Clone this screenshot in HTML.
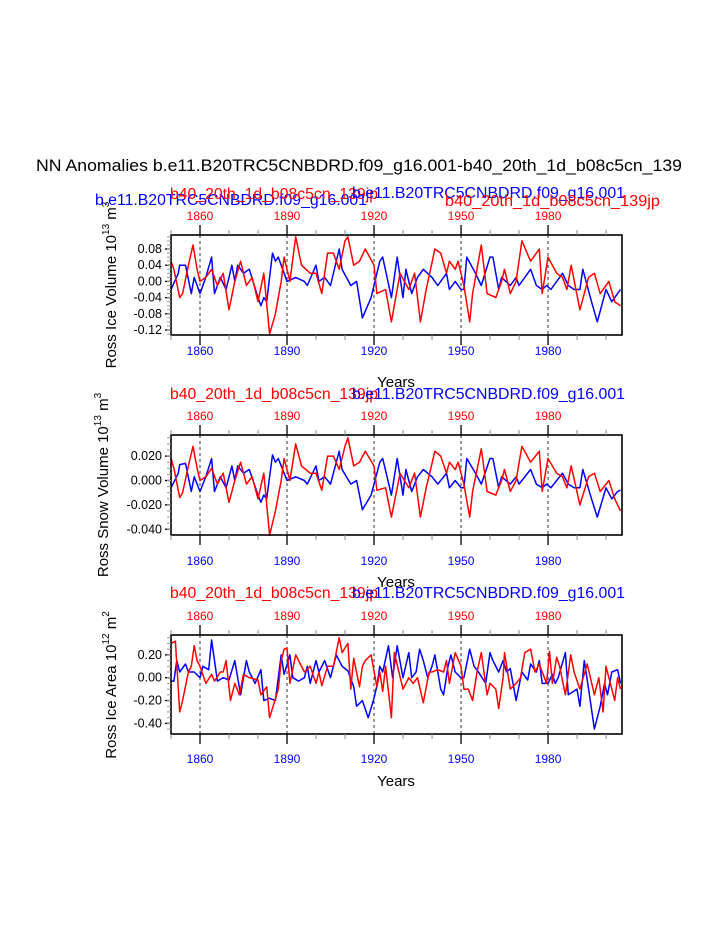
<!DOCTYPE html>
<html><head><meta charset="utf-8"><style>
html,body{margin:0;padding:0;background:#fff;width:723px;height:935px;overflow:hidden}
svg{display:block;font-family:"Liberation Sans",sans-serif}
</style></head><body>
<svg id="chart" width="723" height="935" viewBox="0 0 723 935" xmlns="http://www.w3.org/2000/svg">
<text x="36" y="171" font-size="17" textLength="646" lengthAdjust="spacingAndGlyphs">NN Anomalies b.e11.B20TRC5CNBDRD.f09_g16.001-b40_20th_1d_b08c5cn_139</text>
</svg>
<script>
// ---- data ----
const xTicks = [1860, 1890, 1920, 1950, 1980];
const xMinor = [1850, 1870, 1880, 1900, 1910, 1930, 1940, 1960, 1970, 1990, 2000];
// Panel 1: Ross Ice Volume (values in 10^13 m^3)
const p1Ticks = [0.08, 0.04, 0.00, -0.04, -0.08, -0.12];
const p1TickLabels = ["0.08", "0.04", "0.00", "-0.04", "-0.08", "-0.12"];
const redYears = [1850,1851,1853,1854,1856,1857.6,1859,1860,1862,1864,1866,1868,1870,1872,1874,1876,1878,1880,1882,1884,1886,1888,1889,1891,1893,1895,1898,1900,1902,1904,1906,1908,1910,1911,1913,1915,1917,1920,1921,1924,1926,1929,1932,1934,1936,1938,1941,1943,1945,1946,1948,1949,1951,1953,1954,1957,1959,1962,1964,1965,1967,1969,1971,1974,1977,1978,1980,1983,1985,1986.5,1988,1991,1994,1996,1998,2001,2003,2005];
const p1Red = [5,3,-4,-3,4,9,3,0,1,3,-1,2,-7,0,5,-1,1,-5,2,-13,-8,0,6,0,11,4,2,2,-3,7,7,3,10,11,4,5,8,4,-3,-2,-10,2,-2,2,-10,-2,8,7,2,5,3,5,-1,-10,-3,9,-3,-4,0,3,-3,0,10,5,8,-3,6,2,1,-2,4,-7,1,2,-3,0,-5,-6].map(v=>v/100);
const blueYears = [1850,1852.5,1853,1855,1857,1858,1860,1862,1864,1865,1867,1869,1871,1872,1873,1875,1877,1880,1881,1882,1883,1885,1886,1887,1889,1890,1893,1896,1897,1900,1901,1903,1905,1907,1908,1909,1912,1914,1916,1919,1922,1923,1926,1928,1930,1931,1933,1935,1937,1940,1942,1945,1946,1948,1950,1951,1952,1955,1957,1960,1961,1963,1964,1967,1969,1970,1974,1976,1978,1979.5,1981,1983,1985,1987,1989,1991,1992,1995,1997,2000,2002,2004,2005];
const p1Blue = [-2,2,4,4,-3,1,-3,1,6,-3,1,-2,4,0,4,2,3,-4,-6,-4,-5,7,5,6,2,0,1,0,-1,4,0,1,-1,5,8,3,-1,0,-9,-4,5,6,-4,6,-4,3,-3,1,3,1,-1,2,-2,0,-2,-2,6,2,-1,6,6,-2,1,-1,1,-1,3,-1,-2,-1,-2,0,2,-1,-2,-2,3,-5,-10,-2,-5,-3,-2].map(v=>v/100);
// Panel 2: Ross Snow Volume
const p2Ticks = [0.02, 0.0, -0.02, -0.04];
const p2TickLabels = ["0.020", "0.000", "-0.020", "-0.040"];
const p2Red = [18,10,-14,-10,12,28,10,0,3,10,-3,6,-18,0,15,-3,3,-15,6,-45,-25,0,18,0,30,12,6,6,-8,20,20,9,28,35,12,15,24,12,-8,-6,-30,6,-6,6,-30,-6,24,20,6,15,9,15,-3,-30,-9,26,-9,-12,0,9,-9,0,28,15,24,-9,18,6,3,-6,12,-20,3,6,-9,0,-15,-25].map(v=>v/1000);
const p2Blue = [-6,6,13,14,-9,3,-9,3,18,-9,3,-6,12,0,12,6,9,-12,-18,-12,-15,21,15,18,6,0,3,0,-3,12,0,3,-3,15,24,9,-3,0,-24,-12,15,18,-12,18,-12,9,-9,3,9,3,-3,6,-6,0,-6,-6,18,6,-3,18,18,-6,3,-3,3,-3,9,-3,-6,-3,-6,0,6,-3,-6,-6,9,-15,-30,-6,-15,-9,-8].map(v=>v/1000);
// Panel 3: Ross Ice Area
const p3Ticks = [0.2, 0.0, -0.2, -0.4];
const p3TickLabels = ["0.20", "0.00", "-0.20", "-0.40"];
const p3RedYears = [1850,1851.5,1853,1854,1856,1857,1858,1859,1860,1862,1864,1865,1867,1868,1869,1870.5,1872,1873.6,1875,1877,1880,1881,1883,1884,1887,1888,1889,1890,1891,1893,1896,1898,1900,1901,1902,1904,1906,1908,1909,1911,1912,1913,1915,1916,1917,1919,1921,1922,1923,1924,1926,1927,1930,1932,1933.5,1935,1937,1939,1940,1942,1944,1945,1946,1948,1950,1951,1952.5,1954,1955.5,1957,1959,1960,1962,1963,1964.5,1965,1967,1969,1970.5,1972,1974,1975.5,1977,1978,1979.5,1980.5,1981.5,1983,1984,1986,1987.8,1989,1991,1993.5,1996,1997.5,1999,2000,2001,2003,2004,2005];
const p3Red = [.30,.32,-.30,-.20,.05,.10,.28,.15,.10,-.05,.03,-.03,.05,.05,.15,-.20,-.05,-.15,.03,0,-.02,-.15,-.08,-.35,-.10,.15,.25,.26,-.05,.20,.05,.10,-.05,.05,-.07,.10,.10,.35,.22,.30,-.10,.17,-.08,.10,.15,.20,-.08,.05,-.12,.10,-.35,.22,-.10,0,-.05,0,-.22,.05,.05,.07,.05,.15,-.05,.22,.10,-.10,-.10,-.20,.05,.22,-.15,-.05,-.10,-.27,0,.22,-.10,-.05,0,.22,.25,.05,.12,.05,-.05,.23,-.05,.18,.10,-.15,.20,.05,-.10,.12,-.15,0,-.30,.10,0,-.20,0,-.10];
const p3BlueYears = [1850,1851,1852,1853,1855,1856,1858,1860,1861,1863,1864,1866,1868,1870,1872,1874,1876,1877,1879,1881,1882,1884,1886,1888,1889,1891,1892,1894,1896,1897,1898,1900,1901,1903,1905,1907,1909,1911,1913,1914,1916,1918,1920,1921,1922,1923,1925,1926.4,1928,1930,1932,1933,1934.5,1935.7,1937,1938.5,1940,1941,1943,1944,1945.5,1946.5,1948,1950,1951,1953,1954.5,1956,1958.5,1960,1961,1963,1964.5,1965.7,1967,1969,1971,1973,1974,1976,1977,1978,1979,1980,1981.5,1982.5,1983.5,1986,1987,1990,1991,1992.5,1994,1996,1998,1999.5,2000.5,2002,2004,2005];
const p3Blue = [-.03,-.03,.15,.05,.12,.05,.05,0,.10,.07,.33,-.03,0,-.02,.15,-.15,.15,.05,-.05,.07,-.20,-.18,-.20,.20,.03,.20,0,-.03,0,.10,-.05,.15,.05,.15,0,.20,.10,.06,-.08,-.25,-.20,-.35,-.18,-.07,.10,.05,.28,0,.28,0,.22,0,.05,.25,.15,0,.10,.20,-.10,-.15,.10,.20,.05,0,0,.25,.10,.05,-.05,.22,.15,.05,.15,.05,.08,-.20,.05,-.02,.12,.05,.15,-.05,-.05,-.05,.03,-.05,0,.22,-.15,-.10,-.25,.15,-.10,-.45,-.25,-.05,-.15,.05,.07,-.05];

const RED="#ff0000", BLUE="#0000ff";
const svg=document.getElementById('chart');
const NS="http://www.w3.org/2000/svg";
function mk(tag,attrs,parent){const e=document.createElementNS(NS,tag);for(const k in attrs)e.setAttribute(k,attrs[k]);(parent||svg).appendChild(e);return e;}
const X0=171, X1=622, YR0=1850, YR1=2005.5;
function xs(yr){return X0+(yr-YR0)*(X1-X0)/(YR1-YR0);}

function panel(cfg){
  const g=mk('g',{});
  
  
  const ys=v=>cfg.top+(cfg.vmax-v)*(cfg.bot-cfg.top)/(cfg.vmax-cfg.vmin);
  xTicks.forEach(t=>{const l=mk('line',{x1:xs(t),x2:xs(t),y1:cfg.top,y2:cfg.bot,stroke:'#000','stroke-width':0.8,'stroke-dasharray':'3,3'},g);
    
    });
  function series(years,vals,color,nm){
    const d=years.map((y,i)=>(i?'L':'M')+xs(y).toFixed(1)+','+ys(vals[i]).toFixed(1)).join('');
    const p=mk('path',{d:d,fill:'none',stroke:color,'stroke-width':1.5,'stroke-linejoin':'round'},g);
    
    
  }
  series(cfg.blueYears,cfg.blue,BLUE,'blue-series');
  series(cfg.redYears,cfg.red,RED,'red-series');
  const r=mk('rect',{x:X0,y:cfg.top,width:X1-X0,height:cfg.bot-cfg.top,fill:'none',stroke:'#000','stroke-width':1.6},g);
  
  
  xTicks.forEach(t=>{
    mk('line',{x1:xs(t),x2:xs(t),y1:cfg.top,y2:cfg.top-10,stroke:'#000','stroke-width':1.3},g);
    mk('line',{x1:xs(t),x2:xs(t),y1:cfg.bot,y2:cfg.bot+10,stroke:'#000','stroke-width':1.3},g);
    const tt=mk('text',{x:xs(t),y:cfg.top-15,'font-size':12,fill:RED,'text-anchor':'middle'},g);tt.textContent=t;
    
    
    const tb=mk('text',{x:xs(t),y:cfg.bot+cfg.blOff,'font-size':12,fill:BLUE,'text-anchor':'middle'},g);tb.textContent=t;
    
    
  });
  xMinor.forEach(t=>{
    mk('line',{x1:xs(t),x2:xs(t),y1:cfg.top,y2:cfg.top-5,stroke:'#888','stroke-width':1},g);
    mk('line',{x1:xs(t),x2:xs(t),y1:cfg.bot,y2:cfg.bot+5,stroke:'#888','stroke-width':1},g);
  });
  cfg.ticks.forEach((v,i)=>{
    mk('line',{x1:X0,x2:X0-6,y1:ys(v),y2:ys(v),stroke:'#000','stroke-width':1.3},g);
    const t=mk('text',{x:X0-9,y:ys(v)+4,'font-size':12.5,'text-anchor':'end'},g);t.textContent=cfg.tickLabels[i];
    
    
  });
  const step=(cfg.ticks[0]-cfg.ticks[1])/cfg.minorDiv;
  for(let v=cfg.ticks[0]+step*10;v>cfg.vmin;v-=step){ if(v<cfg.vmax-step*0.3) mk('line',{x1:X0,x2:X0-4,y1:ys(v),y2:ys(v),stroke:'#999','stroke-width':1},g);}
  const yt=mk('text',{transform:`translate(${cfg.ytx},${cfg.yty}) rotate(-90)`,'font-size':15,'text-anchor':'middle'},g);
  yt.innerHTML=cfg.ytitle;
  
  
  const xt=mk('text',{x:396,y:cfg.bot+52,'font-size':15,'text-anchor':'middle'},g);xt.textContent='Years';
  
  
  cfg.headers.forEach(h=>{
    const t=mk('text',{x:h.x,y:h.y,'font-size':15.5,fill:h.c,textLength:h.w,lengthAdjust:'spacingAndGlyphs'},g);t.textContent=h.t;
    
    
  });
}
const NB="b.e11.B20TRC5CNBDRD.f09_g16.001", NR="b40_20th_1d_b08c5cn_139jp";
panel({name:'ice-volume-panel',top:235,bot:335,vmax:0.1146,vmin:-0.1323,ticks:p1Ticks,tickLabels:p1TickLabels,minorDiv:4,blOff:20,
  redYears:redYears,red:p1Red,blueYears:blueYears,blue:p1Blue,ytx:116,yty:285,
  ytitle:'Ross Ice Volume 10<tspan font-size="10" dy="-7">13</tspan><tspan dy="7"> m</tspan><tspan font-size="10" dy="-7">3</tspan>',
  headers:[{x:95,y:205,t:NB,c:BLUE,w:272},{x:170,y:199,t:NR,c:RED,w:208},{x:352,y:198,t:NB,c:BLUE,w:273},{x:445,y:206,t:NR,c:RED,w:215}]});
panel({name:'snow-volume-panel',top:435,bot:535,vmax:0.0373,vmin:-0.0447,ticks:p2Ticks,tickLabels:p2TickLabels,minorDiv:4,blOff:30,
  redYears:redYears,red:p2Red,blueYears:blueYears,blue:p2Blue,ytx:108,yty:485,
  ytitle:'Ross Snow Volume 10<tspan font-size="10" dy="-7">13</tspan><tspan dy="7"> m</tspan><tspan font-size="10" dy="-7">3</tspan>',
  headers:[{x:170,y:399,t:NR,c:RED,w:208},{x:352,y:399,t:NB,c:BLUE,w:273}]});
panel({name:'ice-area-panel',top:635,bot:734,vmax:0.374,vmin:-0.493,ticks:p3Ticks,tickLabels:p3TickLabels,minorDiv:4,blOff:29,
  redYears:p3RedYears,red:p3Red,blueYears:p3BlueYears,blue:p3Blue,ytx:116,yty:685,
  ytitle:'Ross Ice Area 10<tspan font-size="10" dy="-7">12</tspan><tspan dy="7"> m</tspan><tspan font-size="10" dy="-7">2</tspan>',
  headers:[{x:170,y:598,t:NR,c:RED,w:208},{x:352,y:598,t:NB,c:BLUE,w:273}]});
</script>
</body></html>
